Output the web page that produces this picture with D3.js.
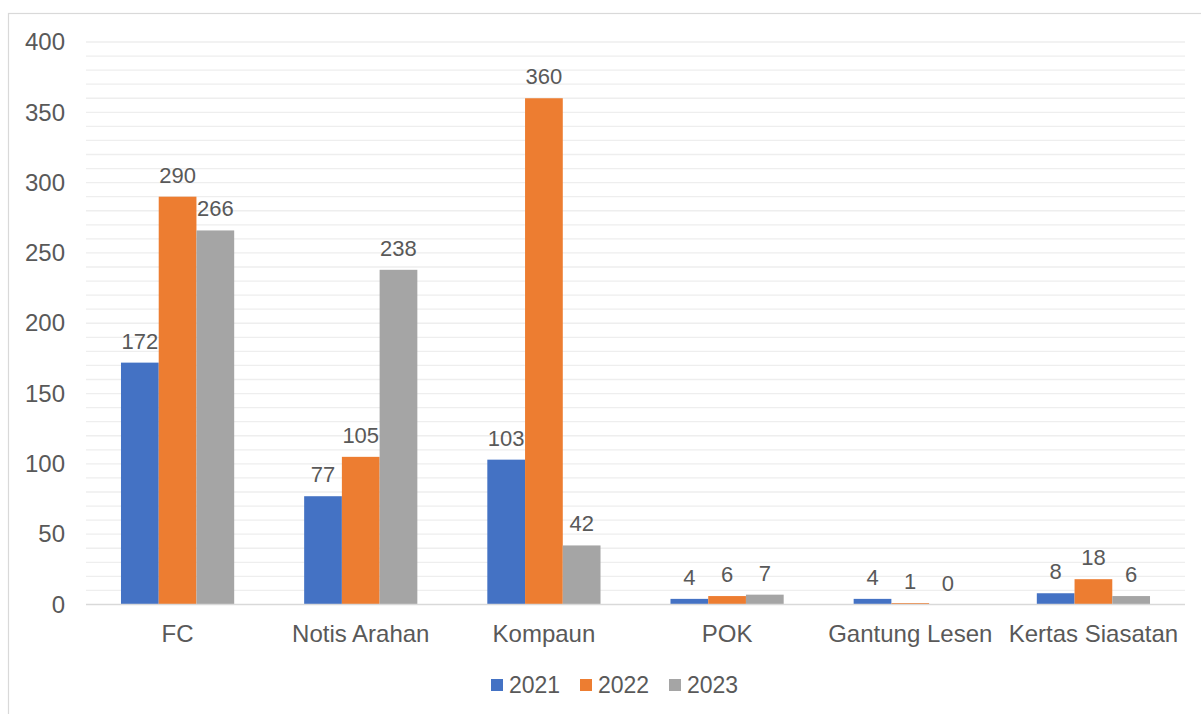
<!DOCTYPE html>
<html>
  <head>
    <meta charset="utf-8">
    <title>Bar chart</title>
    <script src="https://d3js.org/d3.v7.min.js"></script>
    <style>
      body { margin: 0; background: #fff; }
      text { font-family: "Liberation Sans", Arial, sans-serif; fill: #595959; }
    </style>
  </head>
  <body>
    <div id="vis"></div>
    <script>
      const width = 1201;
      const height = 714;

      // data
      const categories = ["FC", "Notis Arahan", "Kompaun", "POK", "Gantung Lesen", "Kertas Siasatan"];
      const years = ["2021", "2022", "2023"];
      const values2021 = [172, 77, 103, 4, 4, 8];
      const values2022 = [290, 105, 360, 6, 1, 18];
      const values2023 = [266, 238, 42, 7, 0, 6];
      const yTicks = [0, 50, 100, 150, 200, 250, 300, 350, 400];
      const colors = ["#4472C4", "#ED7D31", "#A5A5A5"];

      const series = [values2021, values2022, values2023];
      const rows = categories.map((c, i) => ({
        cat: c,
        vals: years.map((y, j) => ({ year: y, value: series[j][i], idx: j }))
      }));

      const margin = { left: 86, right: 16, top: 42, bottom: 110 };

      const svg = d3.select("#vis")
        .append("svg")
        .attr("width", width)
        .attr("height", height);

      // outer chart frame
      svg.append("rect")
        .attr("x", 8.5)
        .attr("y", 13.5)
        .attr("width", 1300)
        .attr("height", 800)
        .attr("fill", "none")
        .attr("stroke", "#d9d9d9")
        .attr("stroke-width", 1.2);

      const x0 = d3.scaleBand()
        .domain(categories)
        .range([margin.left, 1185])
        .paddingInner(0.382)
        .paddingOuter(0.191);

      const x1 = d3.scaleBand()
        .domain(years)
        .range([0, x0.bandwidth()]);

      const y = d3.scaleLinear()
        .domain([0, 400])
        .range([604.5, 42]);

      // minor gridlines every 10
      svg.append("g")
        .selectAll("line")
        .data(d3.range(10, 401, 10))
        .join("line")
        .attr("x1", margin.left)
        .attr("x2", 1185)
        .attr("y1", d => y(d))
        .attr("y2", d => y(d))
        .attr("stroke", "#eeeeee")
        .attr("stroke-width", 1.3);

      // y axis labels
      const yAxis = d3.axisLeft(y).tickValues(yTicks).tickSize(0).tickPadding(0);
      const gy = svg.append("g")
        .attr("transform", "translate(65,0)")
        .call(yAxis);
      gy.select(".domain").remove();
      gy.selectAll("text")
        .attr("font-size", 24)
        .attr("font-family", null)
        .attr("fill", "#595959");

      // bars
      const groups = svg.append("g")
        .selectAll("g")
        .data(rows)
        .join("g")
        .attr("transform", d => `translate(${x0(d.cat)},0)`);

      groups.selectAll("rect")
        .data(d => d.vals)
        .join("rect")
        .attr("x", d => x1(d.year))
        .attr("width", x1.bandwidth())
        .attr("y", d => y(d.value))
        .attr("height", d => y(0) - y(d.value))
        .attr("fill", d => colors[d.idx]);

      groups.selectAll("text")
        .data(d => d.vals)
        .join("text")
        .attr("x", d => x1(d.year) + x1.bandwidth() / 2)
        .attr("y", d => y(d.value) - 14)
        .attr("text-anchor", "middle")
        .attr("font-size", 22)
        .text(d => d.value);

      // baseline
      svg.append("line")
        .attr("x1", margin.left)
        .attr("x2", 1185)
        .attr("y1", y(0))
        .attr("y2", y(0))
        .attr("stroke", "#d9d9d9")
        .attr("stroke-width", 1.5);

      // category labels
      const xAxis = d3.axisBottom(x0).tickSize(0).tickPadding(0);
      const gx = svg.append("g")
        .attr("transform", "translate(0,642)")
        .call(xAxis);
      gx.select(".domain").remove();
      gx.selectAll("text")
        .attr("dy", 0)
        .attr("font-size", 24)
        .attr("font-family", null)
        .attr("fill", "#595959");

      // legend
      const legendX = [491, 580, 669];
      const legend = svg.append("g")
        .selectAll("g")
        .data(years)
        .join("g")
        .attr("transform", (d, i) => `translate(${legendX[i]},679)`);

      legend.append("rect")
        .attr("width", 12)
        .attr("height", 12)
        .attr("fill", (d, i) => colors[i]);

      legend.append("text")
        .attr("x", 18)
        .attr("y", 14)
        .attr("font-size", 23)
        .text(d => d);
    </script>
  </body>
</html>
